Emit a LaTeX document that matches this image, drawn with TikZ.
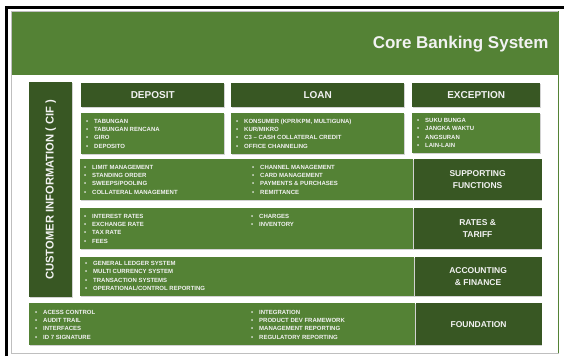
\documentclass[tikz,border=0pt]{standalone}
\usepackage{fontspec}
\setmainfont{Liberation Sans}
\usetikzlibrary{positioning, shadows}

\definecolor{lgreen}{RGB}{84,130,53}
\definecolor{dgreen}{RGB}{56,87,35}
\definecolor{txt}{RGB}{242,242,242}

\newcommand{\bul}{\makebox[8pt][l]{\textbullet}}

\tikzset{
  box/.style={fill=lgreen, anchor=north west, inner sep=0pt,
    drop shadow={shadow xshift=.8pt, shadow yshift=-.8pt, opacity=.35}},
  dbox/.style={box, fill=dgreen, text=txt, align=center,
    font=\bfseries\fontsize{8.5}{11.5}\selectfont},
  head/.style={dbox, font=\bfseries\fontsize{10}{12}\selectfont, minimum height=24pt},
  list/.style={text=txt, font=\bfseries\fontsize{6}{8.3}\selectfont,
    align=left, inner sep=0pt, anchor=west},
}

\begin{document}
\begin{tikzpicture}[x=1pt, y=-1pt]
  \useasboundingbox (0,0) rectangle (564,356);

  % frame and title bar
  \draw[line width=3.5pt] (6.5,356) -- (6.5,7.5) -- (564,7.5);
  \draw[black!25, fill=white] (11,11) rectangle (558,353);
  \draw[lgreen] (558,11) -- (558,353);
  \fill[lgreen] (12,12) rectangle (558,75);
  \node[anchor=east, text=txt, font=\bfseries\fontsize{17}{20}\selectfont] (title) at (552,44) {Core Banking System};

  % customer information column
  \node[dbox, minimum width=43pt, minimum height=215pt] (cif) at (29,82) {};
  \node[rotate=90, text=txt, font=\bfseries\fontsize{11.2}{13}\selectfont] (ciftxt) at (cif.center) {CUSTOMER INFORMATION ( CIF )};

  % products
  \node[head, minimum width=143pt] (dephead) at (81,83) {DEPOSIT};
  \node[head, minimum width=173pt] (loanhead) at (231,83) {LOAN};
  \node[head, minimum width=128pt] (exchead) at (412,83) {EXCEPTION};
  \node[box, minimum width=143pt, minimum height=41pt] (dep) at (81,113) {};
  \node[box, minimum width=173pt, minimum height=41pt] (loan) at (231,113) {};
  \node[box, minimum width=128pt, minimum height=40pt] (exc) at (412,113) {};

  \node[list] (deplist) at (86,133.5) {\bul TABUNGAN\\ \bul TABUNGAN RENCANA\\ \bul GIRO\\ \bul DEPOSITO};
  \node[list] (loanlist) at (236,133.5) {\bul KONSUMER (KPR/KPM, MULTIGUNA)\\ \bul KUR/MIKRO\\ \bul C3 -- CASH COLLATERAL CREDIT\\ \bul OFFICE CHANNELING};
  \node[list] (exclist) at (417,133) {\bul SUKU BUNGA\\ \bul JANGKA WAKTU\\ \bul ANGSURAN\\ \bul LAIN-LAIN};

  % supporting functions
  \node[box, minimum width=333pt, minimum height=41pt] (sup) at (80,159) {};
  \node[dbox, minimum width=128pt, minimum height=41pt, right=0pt of sup] (suphead) {SUPPORTING\\ FUNCTIONS};
  \node[list] (supl) at (84,179.5) {\bul LIMIT MANAGEMENT\\ \bul STANDING ORDER\\ \bul SWEEPS/POOLING\\ \bul COLLATERAL MANAGEMENT};
  \node[list] (supr) at (252,179.5) {\bul CHANNEL MANAGEMENT\\ \bul CARD MANAGEMENT\\ \bul PAYMENTS \& PURCHASES\\ \bul REMITTANCE};

  % rates
  \node[box, minimum width=333pt, minimum height=41pt] (rate) at (80,208) {};
  \node[dbox, minimum width=128pt, minimum height=41pt, right=0pt of rate] (ratehead) {RATES \&\\ TARIFF};
  \node[list] (ratel) at (84,228.5) {\bul INTEREST RATES\\ \bul EXCHANGE RATE\\ \bul TAX RATE\\ \bul FEES};
  \node[list, anchor=north west] (rater) at (ratel.north west -| 251,0) {\bul CHARGES\\ \bul INVENTORY};

  % accounting
  \node[box, minimum width=334pt, minimum height=39pt] (acc) at (80,257) {};
  \node[dbox, minimum width=127pt, minimum height=39pt, right=0pt of acc] (acchead) {ACCOUNTING\\ \& FINANCE};
  \node[list] (accl) at (85,276) {\bul GENERAL LEDGER SYSTEM\\ \bul MULTI CURRENCY SYSTEM\\ \bul TRANSACTION SYSTEMS\\ \bul OPERATIONAL/CONTROL REPORTING};

  % foundation
  \node[box, minimum width=386pt, minimum height=42pt] (fnd) at (29,303) {};
  \node[dbox, minimum width=126pt, minimum height=42pt, right=0pt of fnd] (fndhead) {FOUNDATION};
  \node[list] (fndl) at (35,324.5) {\bul ACESS CONTROL\\ \bul AUDIT TRAIL\\ \bul INTERFACES\\ \bul ID 7 SIGNATURE};
  \node[list] (fndr) at (251,324.5) {\bul INTEGRATION\\ \bul PRODUCT DEV FRAMEWORK\\ \bul MANAGEMENT REPORTING\\ \bul REGULATORY REPORTING};
\end{tikzpicture}
\end{document}
